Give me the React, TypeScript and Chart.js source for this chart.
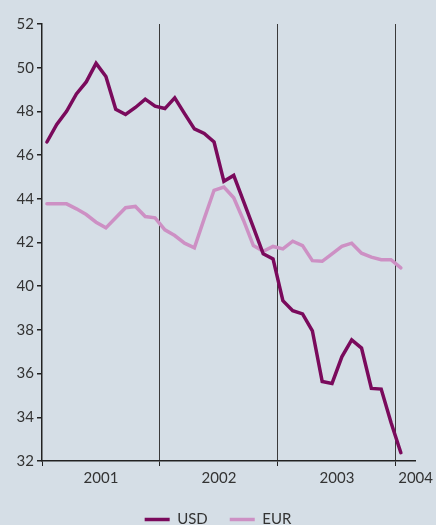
import React, { useEffect, useRef } from "react";
import { Chart, registerables } from "chart.js";

Chart.register(...registerables);

// Monthly values, Jan 2001 .. Jan 2004
const usd: number[] = [
  46.6, 47.4, 48.0, 48.8, 49.35, 50.2, 49.6, 48.1, 47.86, 48.18, 48.56, 48.24,
  48.13, 48.62, 47.9, 47.2, 46.99, 46.6, 44.8, 45.07, 43.88, 42.69, 41.48, 41.25,
  39.34, 38.88, 38.73, 37.96, 35.64, 35.55, 36.77, 37.54, 37.17, 35.32, 35.29, 33.76,
  32.38,
];
const eur: number[] = [
  43.77, 43.77, 43.77, 43.54, 43.28, 42.93, 42.67, 43.13, 43.59, 43.65, 43.19, 43.13,
  42.58, 42.32, 41.97, 41.76, 43.09, 44.39, 44.54, 44.05, 43.01, 41.86, 41.6, 41.82,
  41.71, 42.06, 41.86, 41.17, 41.14, 41.48, 41.82, 41.97, 41.51, 41.33, 41.21, 41.21,
  40.84,
];
const years: string[] = ["2001", "2002", "2003", "2004"];
const seriesNames: string[] = ["USD", "EUR"];
const yTicks = { min: 32, max: 52, step: 2 };

const X_MAX = 38; // months shown on the axis
const boundaries = [12, 24, 36];
const FONT = { family: "Lato", size: 15 };

export default function App() {
  const ref = useRef<HTMLCanvasElement | null>(null);
  useEffect(() => {
    if (!ref.current) return;
    const toPts = (arr: number[]) => arr.map((v, i) => ({ x: i + 0.5, y: v }));
    const labelAt = (v: number): string => {
      const last = years.length - 1;
      for (let k = 0; k < last; k++) if (v === 12 * k + 6) return years[k];
      if (v === X_MAX) return years[last];
      return "";
    };
    const chart = new Chart(ref.current, {
      type: "line",
      data: {
        datasets: [
          {
            label: seriesNames[0],
            data: toPts(usd),
            borderColor: "#7a0a5c",
            backgroundColor: "#7a0a5c",
            borderWidth: 3.5,
            pointRadius: 0,
            borderCapStyle: "round",
            tension: 0,
          },
          {
            label: seriesNames[1],
            data: toPts(eur),
            borderColor: "#cd90c4",
            backgroundColor: "#cd90c4",
            borderWidth: 3.5,
            pointRadius: 0,
            borderCapStyle: "round",
            tension: 0,
          },
        ],
      },
      options: {
        responsive: false,
        animation: false,
        layout: { padding: { left: 0, top: 24, right: 0, bottom: 0 } },
        plugins: {
          tooltip: { enabled: false },
          legend: {
            position: "bottom",
            labels: {
              usePointStyle: true,
              pointStyle: "line",
              pointStyleWidth: 25,
              padding: 22,
              color: "#333",
              font: FONT,
            },
          },
        },
        scales: {
          x: {
            type: "linear",
            min: 0,
            max: X_MAX,
            afterBuildTicks: (scale: any) => {
              scale.ticks = [0, 6, 12, 18, 24, 30, 36, X_MAX].map((v) => ({ value: v }));
            },
            ticks: {
              autoSkip: false,
              maxRotation: 0,
              padding: 3,
              color: "#333",
              font: FONT,
              callback: (v: any) => labelAt(Number(v)),
            },
            grid: {
              color: (ctx: any) =>
                ctx.tick && boundaries.includes(ctx.tick.value) ? "#3a3a3a" : "rgba(0,0,0,0)",
              lineWidth: 1,
              tickColor: (ctx: any) =>
                ctx.tick && (ctx.tick.value === 0 || boundaries.includes(ctx.tick.value))
                  ? "#222"
                  : "rgba(0,0,0,0)",
              tickLength: 5,
            },
            border: { display: true, color: "#222", width: 1.5 },
          },
          y: {
            min: yTicks.min,
            max: yTicks.max,
            afterFit: (scale: any) => {
              scale.width = 42;
            },
            ticks: {
              stepSize: yTicks.step,
              padding: 3,
              color: "#333",
              font: FONT,
            },
            grid: { drawOnChartArea: false, tickLength: 5, tickColor: "#222", lineWidth: 1.5 },
            border: { display: true, color: "#222", width: 1.5 },
          },
        },
      },
    });
    return () => chart.destroy();
  }, []);
  return (
    <div
      style={{
        position: "fixed",
        left: 0,
        top: 0,
        width: 436,
        height: 545,
        background: "#d5dee6",
        overflow: "hidden",
      }}
    >
      <canvas ref={ref} width={436} height={537} style={{ display: "block" }} />
    </div>
  );
}
